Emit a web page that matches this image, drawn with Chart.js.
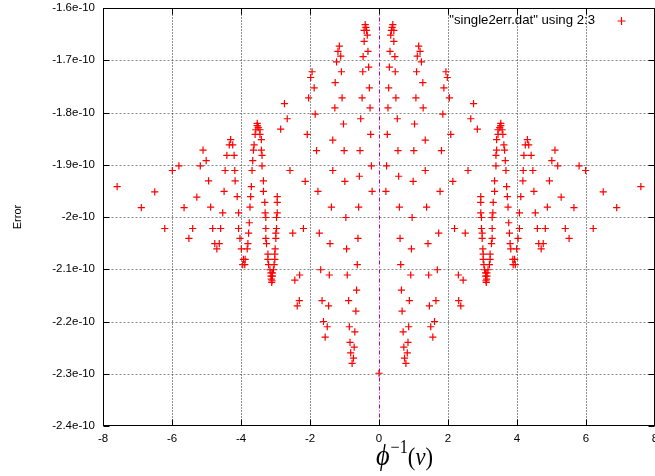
<!DOCTYPE html>
<html>
<head>
<meta charset="utf-8">
<script src="https://cdn.jsdelivr.net/npm/chart.js@4.4.1/dist/chart.umd.min.js"></script>
<style>
  html, body { margin: 0; padding: 0; background: #fff; }
  #wrap { width: 655px; height: 476px; }
</style>
</head>
<body>
<div id="wrap"><canvas id="plot" width="655" height="476"></canvas></div>
<script>
// axis ticks
const xTicks = [-8, -6, -4, -2, 0, 2, 4, 6, 8];
const yTicks = [-2.4, -2.3, -2.2, -2.1, -2.0, -1.9, -1.8, -1.7, -1.6];
const yTickLabels = ["-2.4e-10", "-2.3e-10", "-2.2e-10", "-2.1e-10", "-2e-10", "-1.9e-10", "-1.8e-10", "-1.7e-10", "-1.6e-10"];
const legendLabel = '"single2err.dat" using 2:3';

// [phi^-1(v), error in units of 1e-10], left half
const leftPoints = [
  [-7.59,-1.942],[-6.89,-1.982],[-6.50,-1.952],[-6.21,-2.022],[-5.99,-1.911],[-5.80,-1.902],
  [-5.65,-1.982],[-5.51,-2.041],[-5.40,-2.022],[-5.28,-1.962],[-5.18,-1.902],[-5.10,-1.872],
  [-5.01,-1.892],[-4.94,-1.931],[-4.88,-1.981],[-4.82,-2.022],[-4.76,-2.051],[-4.70,-2.061],
  [-4.63,-2.051],[-4.59,-2.022],[-4.53,-1.992],[-4.49,-1.951],[-4.46,-1.911],[-4.41,-1.882],
  [-4.34,-1.862],[-4.30,-1.852],[-4.24,-1.862],[-4.20,-1.882],[-4.18,-1.911],[-4.17,-1.931],
  [-4.11,-1.961],[-4.07,-1.992],[-4.07,-2.022],[-4.03,-2.041],[-3.99,-2.061],[-3.93,-2.081],
  [-3.88,-2.081],[-3.95,-2.091],[-3.89,-2.091]
];
const leftColumn = [
  [-3.53,-1.821],[-3.53,-1.825],[-3.50,-1.829],[-3.57,-1.833],[-3.45,-1.833],[-3.59,-1.842],
  [-3.45,-1.842],[-3.41,-1.852],[-3.62,-1.862],[-3.64,-1.872],[-3.41,-1.872],[-3.39,-1.882],
  [-3.66,-1.892],[-3.39,-1.902],[-3.68,-1.911],[-3.35,-1.931],[-3.70,-1.942],[-3.35,-1.951],
  [-3.72,-1.961],[-3.31,-1.972],[-3.74,-1.981],[-3.30,-1.992],[-3.28,-2.001],[-3.76,-2.011],
  [-3.28,-2.022],[-3.78,-2.031],[-3.28,-2.041],[-3.80,-2.051],[-3.26,-2.051],[-3.82,-2.061],
  [-3.22,-2.071],[-3.22,-2.081],[-3.20,-2.091],[-3.16,-2.101],
  [-2.95,-1.961],[-2.95,-1.972],[-2.95,-1.992],[-2.97,-2.001],[-2.97,-2.022],[-2.99,-2.031],
  [-2.99,-2.041],[-3.01,-2.061],[-3.02,-2.071],[-3.02,-2.081],[-3.04,-2.091],[-3.06,-2.101],
  [-3.13,-2.107],[-3.09,-2.107],[-3.13,-2.113],[-3.09,-2.113],[-3.12,-2.119],[-3.10,-2.122],
  [-3.11,-2.125]
];
const leftInner = [
  [-2.74,-1.783],[-2.66,-1.812],[-2.85,-1.832],[-2.58,-1.911],[-2.50,-2.031],[-2.44,-2.121],
  [-2.30,-2.111],[-2.31,-2.160],[-2.37,-2.170],[-2.19,-2.022],[-2.14,-1.932],[-2.08,-1.842],
  [-2.04,-1.772],[-1.98,-1.733],[-1.94,-1.722],[-1.88,-1.753],[-1.85,-1.803],[-1.81,-1.873],
  [-1.77,-1.951],[-1.73,-2.031],[-1.69,-2.101],[-1.65,-2.160],[-1.61,-2.200],[-1.56,-2.230],
  [-1.50,-2.210],[-1.46,-2.170],[-1.44,-2.111],[-1.42,-2.051],[-1.38,-1.981],[-1.34,-1.853],
  [-1.34,-1.911],[-1.28,-1.791],[-1.27,-1.743],[-1.23,-1.703],[-1.19,-1.683],[-1.15,-1.673],
  [-1.11,-1.692],[-1.09,-1.722],[-1.07,-1.772],[-1.03,-1.822],[-1.01,-1.873],[-0.99,-1.932],
  [-0.96,-2.001],[-0.94,-2.061],[-0.92,-2.111],[-0.88,-2.160],[-0.86,-2.210],[-0.84,-2.240],
  [-0.82,-2.260],[-0.78,-2.280],[-0.74,-2.270],[-0.72,-2.249],[-0.70,-2.220],[-0.67,-2.180],
  [-0.65,-2.140],[-0.63,-2.091],[-0.61,-2.041],[-0.59,-1.981],[-0.57,-1.922],[-0.55,-1.873],
  [-0.53,-1.812],[-0.49,-1.772],[-0.47,-1.722],[-0.46,-1.693],[-0.43,-1.664],[-0.43,-1.643],
  [-0.40,-1.632],[-0.38,-1.637],[-0.36,-1.643],[-0.34,-1.652],[-0.32,-1.683],[-0.30,-1.713],
  [-0.28,-1.753],[-0.26,-1.791],[-0.24,-1.842],[-0.22,-1.902],[-0.20,-1.951]
];
const centerPoints = [[0.0,-2.299]];

// right half
const rightPoints = [
  [7.59,-1.942],[6.89,-1.982],[6.50,-1.952],[6.21,-2.022],[5.99,-1.911],[5.80,-1.902],
  [5.65,-1.982],[5.51,-2.041],[5.40,-2.022],[5.28,-1.962],[5.18,-1.902],[5.10,-1.872],
  [5.01,-1.892],[4.94,-1.931],[4.88,-1.981],[4.82,-2.022],[4.76,-2.051],[4.70,-2.061],
  [4.63,-2.051],[4.59,-2.022],[4.53,-1.992],[4.49,-1.951],[4.46,-1.911],[4.41,-1.882],
  [4.34,-1.862],[4.30,-1.852],[4.24,-1.862],[4.20,-1.882],[4.18,-1.911],[4.17,-1.931],
  [4.11,-1.961],[4.07,-1.992],[4.07,-2.022],[4.03,-2.041],[3.99,-2.061],[3.93,-2.081],
  [3.88,-2.081],[3.95,-2.091],[3.89,-2.091]
];
const rightColumn = [
  [3.53,-1.821],[3.53,-1.825],[3.50,-1.829],[3.57,-1.833],[3.45,-1.833],[3.59,-1.842],
  [3.45,-1.842],[3.41,-1.852],[3.62,-1.862],[3.64,-1.872],[3.41,-1.872],[3.39,-1.882],
  [3.66,-1.892],[3.39,-1.902],[3.68,-1.911],[3.35,-1.931],[3.70,-1.942],[3.35,-1.951],
  [3.72,-1.961],[3.31,-1.972],[3.74,-1.981],[3.30,-1.992],[3.28,-2.001],[3.76,-2.011],
  [3.28,-2.022],[3.78,-2.031],[3.28,-2.041],[3.80,-2.051],[3.26,-2.051],[3.82,-2.061],
  [3.22,-2.071],[3.22,-2.081],[3.20,-2.091],[3.16,-2.101],
  [2.95,-1.961],[2.95,-1.972],[2.95,-1.992],[2.97,-2.001],[2.97,-2.022],[2.99,-2.031],
  [2.99,-2.041],[3.01,-2.061],[3.02,-2.071],[3.02,-2.081],[3.04,-2.091],[3.06,-2.101],
  [3.13,-2.107],[3.09,-2.107],[3.13,-2.113],[3.09,-2.113],[3.12,-2.119],[3.10,-2.122],
  [3.11,-2.125]
];
const rightInner = [
  [2.74,-1.783],[2.66,-1.812],[2.85,-1.832],[2.58,-1.911],[2.50,-2.031],[2.44,-2.121],
  [2.30,-2.111],[2.31,-2.160],[2.37,-2.170],[2.19,-2.022],[2.14,-1.932],[2.08,-1.842],
  [2.04,-1.772],[1.98,-1.733],[1.94,-1.722],[1.88,-1.753],[1.85,-1.803],[1.81,-1.873],
  [1.77,-1.951],[1.73,-2.031],[1.69,-2.101],[1.65,-2.160],[1.61,-2.200],[1.56,-2.230],
  [1.50,-2.210],[1.46,-2.170],[1.44,-2.111],[1.42,-2.051],[1.38,-1.981],[1.34,-1.853],
  [1.34,-1.911],[1.28,-1.791],[1.27,-1.743],[1.23,-1.703],[1.19,-1.683],[1.15,-1.673],
  [1.11,-1.692],[1.09,-1.722],[1.07,-1.772],[1.03,-1.822],[1.01,-1.873],[0.99,-1.932],
  [0.96,-2.001],[0.94,-2.061],[0.92,-2.111],[0.88,-2.160],[0.86,-2.210],[0.84,-2.240],
  [0.82,-2.260],[0.78,-2.280],[0.74,-2.270],[0.72,-2.249],[0.70,-2.220],[0.67,-2.180],
  [0.65,-2.140],[0.63,-2.091],[0.61,-2.041],[0.59,-1.981],[0.57,-1.922],[0.55,-1.873],
  [0.53,-1.812],[0.49,-1.772],[0.47,-1.722],[0.46,-1.693],[0.43,-1.664],[0.43,-1.643],
  [0.40,-1.632],[0.38,-1.637],[0.36,-1.643],[0.34,-1.652],[0.32,-1.683],[0.30,-1.713],
  [0.28,-1.753],[0.26,-1.791],[0.24,-1.842],[0.22,-1.902],[0.20,-1.951]
];

const allPoints = [].concat(leftPoints, leftColumn, leftInner, centerPoints, rightPoints, rightColumn, rightInner)
  .map(p => ({ x: p[0], y: p[1] }));

const FONT = "'Liberation Sans', Arial, sans-serif";

// gnuplot style frame: dotted grid, zero axis, border, inward ticks
const framePlugin = {
  id: "frame",
  beforeDatasetsDraw(chart) {
    const { ctx, chartArea: a, scales } = chart;
    const L = Math.round(a.left) + 0.5, R = Math.round(a.right) - 0.5;
    const T = Math.round(a.top) + 0.5, B = Math.round(a.bottom) - 0.5;
    ctx.save();
    ctx.lineWidth = 1;
    // horizontal grid
    ctx.strokeStyle = "#8a8a8a";
    ctx.setLineDash([2, 2]);
    yTicks.forEach(v => {
      const y = Math.round(scales.y.getPixelForValue(v)) + 0.5;
      if (y <= T + 1 || y >= B - 1) return;
      ctx.beginPath(); ctx.moveTo(L, y); ctx.lineTo(R, y); ctx.stroke();
    });
    // vertical grid
    ctx.strokeStyle = "#222";
    ctx.setLineDash([1, 2]);
    xTicks.forEach(v => {
      if (v === 0) return;
      const x = Math.round(scales.x.getPixelForValue(v)) + 0.5;
      if (x <= L + 1 || x >= R - 1) return;
      ctx.beginPath(); ctx.moveTo(x, T); ctx.lineTo(x, B); ctx.stroke();
    });
    // zero axis
    ctx.strokeStyle = "#b000c0";
    ctx.setLineDash([4, 2, 1, 2]);
    const x0 = Math.round(scales.x.getPixelForValue(0)) + 0.5;
    ctx.beginPath(); ctx.moveTo(x0, T); ctx.lineTo(x0, B); ctx.stroke();
    ctx.setLineDash([]);
    // border
    ctx.strokeStyle = "#000";
    ctx.strokeRect(L, T, R - L, B - T);
    // inward ticks
    ctx.beginPath();
    xTicks.forEach(v => {
      const x = Math.round(scales.x.getPixelForValue(v)) + 0.5;
      ctx.moveTo(x, B); ctx.lineTo(x, B - 6);
      ctx.moveTo(x, T); ctx.lineTo(x, T + 6);
    });
    yTicks.forEach(v => {
      const y = Math.round(scales.y.getPixelForValue(v)) + 0.5;
      ctx.moveTo(L, y); ctx.lineTo(L + 6, y);
      ctx.moveTo(R, y); ctx.lineTo(R - 6, y);
    });
    ctx.stroke();
    ctx.restore();
  },
  afterDraw(chart) {
    const { ctx } = chart;
    ctx.save();
    // legend
    ctx.fillStyle = "#000";
    ctx.font = "13.2px " + FONT;
    ctx.textAlign = "right";
    ctx.textBaseline = "middle";
    ctx.fillText(legendLabel, 595, 20);
    ctx.strokeStyle = "#ff0000";
    ctx.lineWidth = 1.2;
    ctx.beginPath();
    ctx.moveTo(617.5, 21); ctx.lineTo(625.5, 21);
    ctx.moveTo(621.5, 17); ctx.lineTo(621.5, 25);
    ctx.stroke();
    // y title
    ctx.font = "11px " + FONT;
    ctx.translate(18, 217);
    ctx.rotate(-Math.PI / 2);
    ctx.textAlign = "center";
    ctx.fillText("Error", 0, 0);
    ctx.restore();
    // x title: phi^{-1}(v), laid out piece by piece and fitted to its width
    ctx.save();
    ctx.fillStyle = "#000";
    ctx.textBaseline = "alphabetic";
    ctx.textAlign = "left";
    const serif = "'Liberation Serif', 'DejaVu Serif', serif";
    const parts = [
      { t: "\u03D5", f: "italic 29px " + serif, dy: 0, gap: 1 },
      { t: "\u22121", f: "18px " + serif, dy: -12, gap: 0 },
      { t: "(", f: "25px " + serif, dy: 0, gap: 0 },
      { t: "v", f: "italic 25px " + serif, dy: 0, gap: 0 },
      { t: ")", f: "25px " + serif, dy: 0, gap: 0 }
    ];
    let total = 0;
    parts.forEach(p => { ctx.font = p.f; total += ctx.measureText(p.t).width + p.gap; });
    const sx = 57 / total;
    ctx.translate(376, 465);
    ctx.scale(sx, 1);
    let x = 0;
    parts.forEach(p => {
      ctx.font = p.f;
      ctx.fillText(p.t, x, p.dy);
      x += ctx.measureText(p.t).width + p.gap;
    });
    ctx.restore();
  }
};

new Chart(document.getElementById("plot"), {
  type: "scatter",
  data: {
    datasets: [{
      label: legendLabel,
      data: allPoints,
      pointStyle: "cross",
      pointRadius: 3.6,
      pointHoverRadius: 3.6,
      borderWidth: 1.2,
      borderColor: "#ff0000",
      backgroundColor: "#ff0000"
    }]
  },
  options: {
    responsive: false,
    animation: false,
    devicePixelRatio: 1,
    layout: { autoPadding: false, padding: { left: 0, right: 0, top: 8, bottom: 0 } },
    plugins: { legend: { display: false }, tooltip: { enabled: false } },
    scales: {
      x: {
        type: "linear",
        min: -8, max: 8,
        afterBuildTicks: s => { s.ticks = xTicks.map(v => ({ value: v })); },
        afterFit: s => { s.height = 50; s.paddingLeft = 0; s.paddingRight = 0; },
        grid: { display: false, drawTicks: false },
        border: { display: false },
        ticks: { color: "#000", font: { size: 11.5, family: FONT }, padding: 6, maxRotation: 0, autoSkip: false,
                 callback: v => String(v) }
      },
      y: {
        type: "linear",
        min: -2.4, max: -1.6,
        afterBuildTicks: s => { s.ticks = yTicks.map(v => ({ value: v })); },
        afterFit: s => { s.width = 103; s.paddingTop = 0; s.paddingBottom = 0; },
        grid: { display: false, drawTicks: false },
        border: { display: false },
        ticks: { color: "#000", font: { size: 11.5, family: FONT }, padding: 8, autoSkip: false,
                 callback: (v, i) => yTickLabels[i] }
      }
    }
  },
  plugins: [framePlugin]
});
</script>
</body>
</html>
